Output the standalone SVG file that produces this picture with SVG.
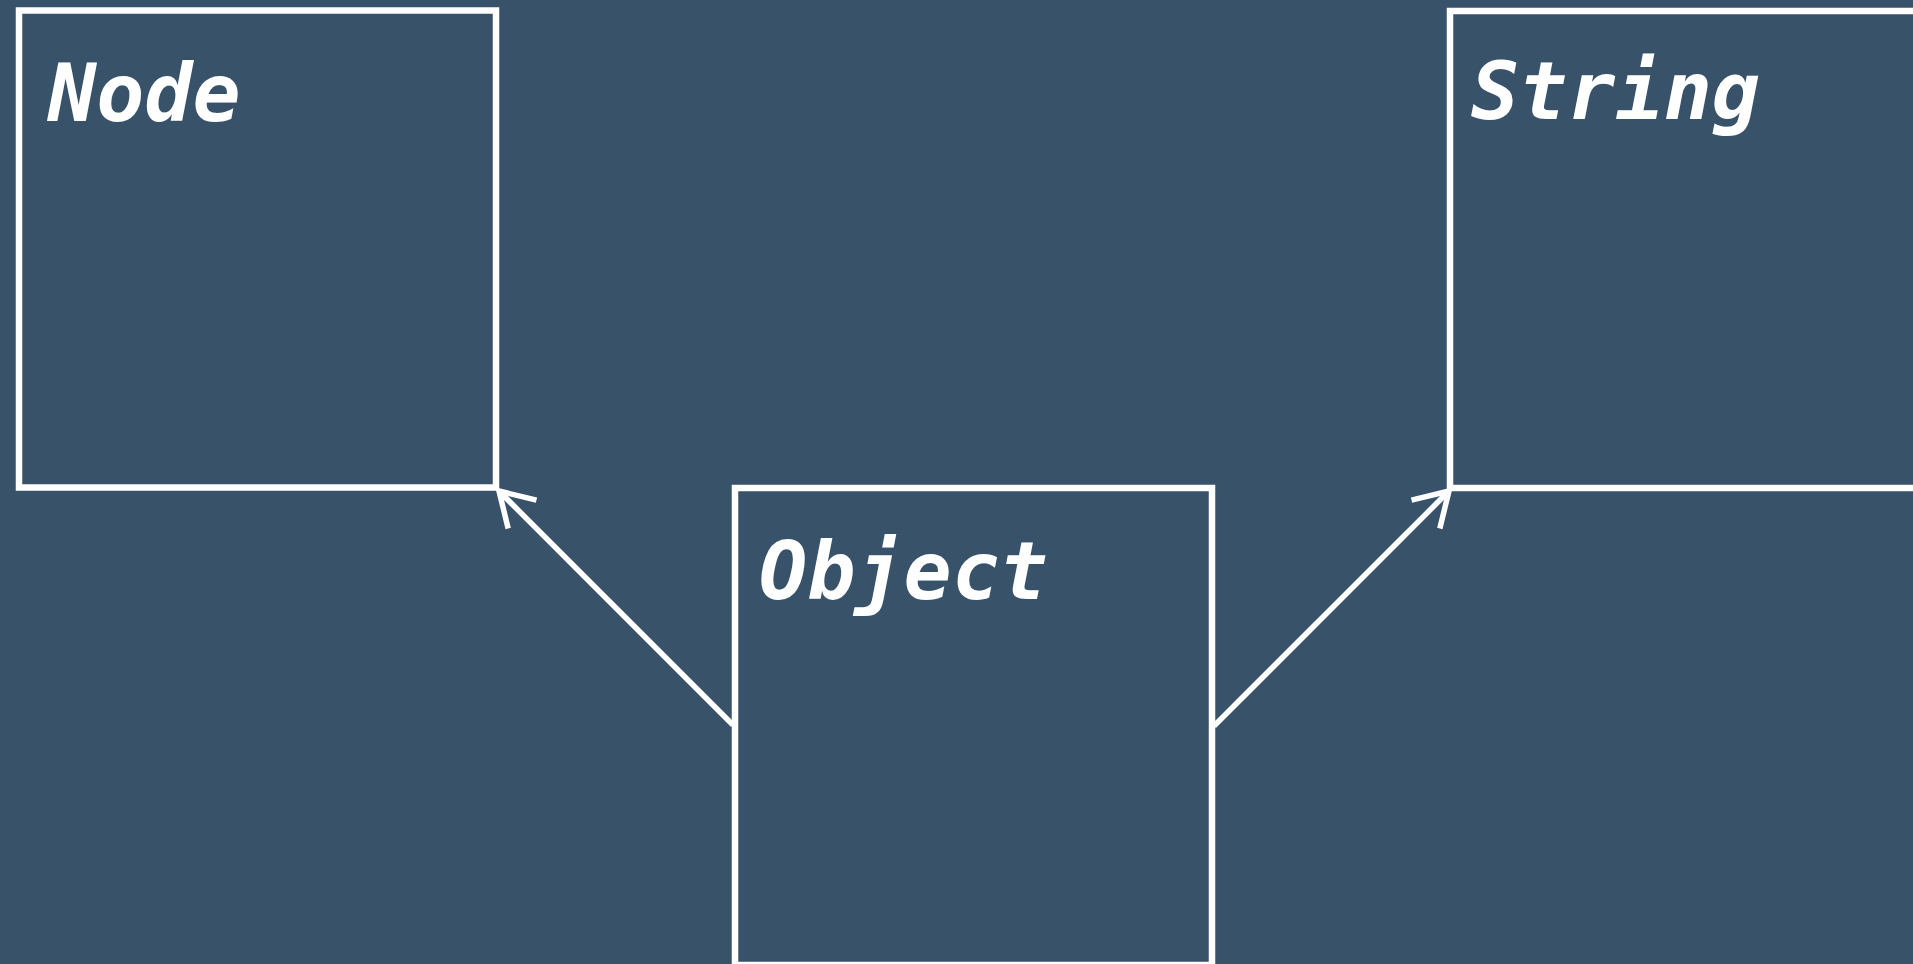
<svg xmlns="http://www.w3.org/2000/svg" width="1913" height="964" viewBox="0 0 1913 964">
  <defs>
    <style>
      .box { fill: none; stroke: #ffffff; stroke-width: 6.5; }
      .label { fill: #ffffff; font-family: "DejaVu Sans Mono", "Liberation Mono", monospace; font-weight: bold; font-style: italic; font-size: 80px; }
      .edge { fill: none; stroke: #ffffff; stroke-width: 5.5; }
    </style>
    <marker id="open-arrow" markerUnits="userSpaceOnUse" markerWidth="80" markerHeight="80" viewBox="-40 -40 80 80" refX="0" refY="0" orient="auto">
      <path d="M-33,-20 L0,0 L-33,20" fill="none" stroke="#ffffff" stroke-width="5.5"/>
    </marker>
  </defs>
  <rect width="1913" height="964" fill="#38526a"/>

  <g id="node-Node">
    <rect class="box" x="19" y="10.5" width="477" height="477"/>
    <text class="label" x="48" y="121">Node</text>
  </g>

  <g id="node-String">
    <rect class="box" x="1450" y="11" width="477" height="477"/>
    <text class="label" x="1471" y="119">String</text>
  </g>

  <g id="node-Object">
    <rect class="box" x="735" y="488" width="477" height="477"/>
    <text class="label" x="759" y="599">Object</text>
  </g>

  <g id="connectors">
    <line class="edge" x1="733" y1="725" x2="499" y2="491" marker-end="url(#open-arrow)"/>
    <line class="edge" x1="1214" y1="726" x2="1449" y2="491" marker-end="url(#open-arrow)"/>
  </g>
</svg>
